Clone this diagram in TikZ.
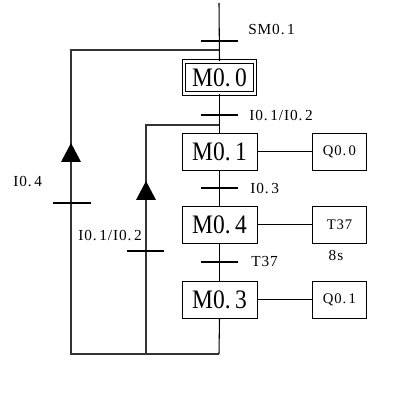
\documentclass[tikz,border=0pt]{standalone}
\usepackage{fontspec}
\setmainfont{Liberation Serif}
\newfontfamily\labfont[LetterSpace=6]{Liberation Serif}
\newfontfamily\boxfont[FakeStretch=0.88]{Liberation Serif}
\begin{document}
\begin{tikzpicture}[x=0.75pt,y=-0.75pt,
  stepbox/.style={draw,line width=0.7pt,minimum width=56.25pt,minimum height=27.75pt,inner sep=0pt,font=\boxfont\fontsize{20}{20}\selectfont},
  outbox/.style={draw,line width=0.7pt,minimum width=41pt,minimum height=27.75pt,inner sep=0pt,font=\labfont\fontsize{11}{11}\selectfont},
  lab/.style={inner sep=0pt,font=\labfont\fontsize{11.5}{12}\selectfont},
  wire/.style={line width=0.8pt},
  loopwire/.style={line width=1.1pt,black!80},
  bar/.style={line width=0.8pt},
  tri/.style={fill=black}]
\useasboundingbox (0,0) rectangle (408,402);
% step boxes
\node[stepbox,double,double distance=2pt,minimum width=53.25pt,minimum height=24pt] (m0) at (219.5,77.5) {M0.\,0};
\node[stepbox] (m1) at (219.5,151.5) {M0.\,1};
\node[stepbox] (m4) at (219.5,224.5) {M0.\,4};
\node[stepbox] (m3) at (219.5,299.5) {M0.\,3};
% output boxes
\node[outbox] (q00) at (339.5,151.5) {Q0.\,0};
\node[outbox] (t37) at (339.5,224.5) {T37};
\node[outbox] (q01) at (339.5,299.5) {Q0.\,1};
% coordinates
\coordinate (top) at (219,3);
\coordinate (bot) at (219,354);
\coordinate (bl) at (71,354);
\coordinate (tl) at (71,50);
\coordinate (tr) at (219,50);
\coordinate (ib) at (146,354);
\coordinate (it) at (146,125);
\coordinate (ir) at (219,125);
% main line
\draw[wire] (top) -- (m0.north);
\draw[wire] (m0.south) -- (m1.north);
\draw[wire] (m1.south) -- (m4.north);
\draw[wire] (m4.south) -- (m3.north);
\draw[wire] (m3.south) -- (bot);
% outputs
\draw[wire] (m1.east) -- (q00.west);
\draw[wire] (m4.east) -- (t37.west);
\draw[wire] (m3.east) -- (q01.west);
% loops
\draw[loopwire] (bot) -- (bl) -- (tl) -- (tr);
\draw[loopwire] (ib) -- (it) -- (ir);
% transition bars
\draw[bar] (201,41) -- (238,41);
\draw[bar] (201,115) -- (238,115);
\draw[bar] (201,188) -- (238,188);
\draw[bar] (201,262) -- (238,262);
\draw[bar] (53,203) -- (91,203);
\draw[bar] (127,251) -- (164,251);
% arrow triangles
\fill[tri] (71,143) -- (81,162) -- (61,162) -- cycle;
\fill[tri] (146,181) -- (156,200) -- (136,200) -- cycle;
% labels
\node[lab,anchor=west] (l1) at (248,30) {SM0.\,1};
\node[lab,anchor=west] (l2) at (249,116) {I0.\,1/I0.\,2};
\node[lab,anchor=west] (l3) at (250,189) {I0.\,3};
\node[lab,anchor=west] (l4) at (251,262) {T37};
\node[lab,anchor=west] (l5) at (13,182) {I0.\,4};
\node[lab,anchor=west] (l6) at (78,236) {I0.\,1/I0.\,2};
\node[lab] (l7) at (336,255) {8s};
\end{tikzpicture}
\end{document}
